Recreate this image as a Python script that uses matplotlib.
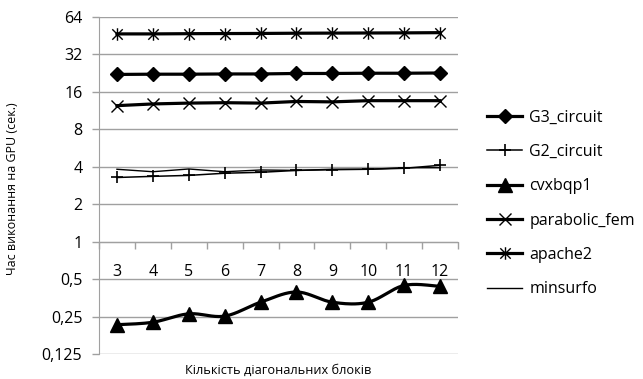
import numpy as np
import matplotlib
matplotlib.use('Agg')
import matplotlib.pyplot as plt
from matplotlib.path import Path

plt.rcParams['font.family'] = ['Open Sans', 'DejaVu Sans']

blocks = [3, 4, 5, 6, 7, 8, 9, 10, 11, 12]
g3_circuit = [22.1, 22.2, 22.2, 22.3, 22.3, 22.5, 22.5, 22.6, 22.6, 22.7]
g2_circuit = [3.28, 3.35, 3.41, 3.55, 3.61, 3.74, 3.79, 3.82, 3.89, 4.11]
cvxbqp1 = [0.215, 0.225, 0.263, 0.252, 0.326, 0.394, 0.326, 0.326, 0.445, 0.437]
parabolic_fem = [12.4, 12.8, 13.0, 13.1, 13.0, 13.4, 13.3, 13.6, 13.6, 13.6]
apache2 = [46.8, 46.8, 47.0, 47.1, 47.2, 47.4, 47.5, 47.6, 47.7, 47.9]
minsurfo = [3.82, 3.65, 3.84, 3.65, 3.77, 3.74, 3.82, 3.82, 3.93, 3.93]

yticks = [0.125, 0.25, 0.5, 1, 2, 4, 8, 16, 32, 64]
ytick_labels = ['0,125', '0,25', '0,5', '1', '2', '4', '8', '16', '32', '64']

# asterisk like excel: X plus vertical bar
star = Path([(-1, -1), (1, 1), (-1, 1), (1, -1), (0, -1.2), (0, 1.2)],
            [Path.MOVETO, Path.LINETO, Path.MOVETO, Path.LINETO, Path.MOVETO, Path.LINETO])


def smooth(xs, ys, n=20):
    # catmull-rom style smoothing in log space (like excel smoothed line)
    x = np.arange(len(xs), dtype=float)
    y = np.log2(ys)
    px, py = [], []
    for i in range(len(x) - 1):
        x0, y0 = x[max(i - 1, 0)], y[max(i - 1, 0)]
        x3, y3 = x[min(i + 2, len(x) - 1)], y[min(i + 2, len(x) - 1)]
        c1 = (x[i] + (x[i + 1] - x0) / 6, y[i] + (y[i + 1] - y0) / 6)
        c2 = (x[i + 1] - (x3 - x[i]) / 6, y[i + 1] - (y3 - y[i]) / 6)
        t = np.linspace(0, 1, n)
        px.extend((1 - t) ** 3 * x[i] + 3 * (1 - t) ** 2 * t * c1[0] + 3 * (1 - t) * t ** 2 * c2[0] + t ** 3 * x[i + 1])
        py.extend((1 - t) ** 3 * y[i] + 3 * (1 - t) ** 2 * t * c1[1] + 3 * (1 - t) * t ** 2 * c2[1] + t ** 3 * y[i + 1])
    return np.array(px), 2 ** np.array(py)


fig = plt.figure(figsize=(6.43, 3.79), dpi=100)
ax = fig.add_axes([99 / 643, 1 - 354 / 379, 359 / 643, 337 / 379])

x = np.arange(len(blocks))
lw = 2.3
l1, = ax.plot(x, g3_circuit, color='black', lw=lw, marker='D', ms=7, label='G3_circuit')
l2, = ax.plot(x, g2_circuit, color='black', lw=1.1, marker='+', ms=9, mew=1.2, label='G2_circuit')
sx, sy = smooth(blocks, cvxbqp1)
ax.plot(sx, sy, color='black', lw=lw)
ax.plot(x, cvxbqp1, ls='none', color='black', marker='^', ms=9.5)
l3, = ax.plot([], [], color='black', lw=lw, marker='^', ms=9.5, label='cvxbqp1')
l4, = ax.plot(x, parabolic_fem, color='black', lw=lw, marker='x', ms=9, mew=1, label='parabolic_fem')
l5, = ax.plot(x, apache2, color='black', lw=lw, marker=star, ms=9, mew=1, label='apache2')
l6, = ax.plot(x, minsurfo, color='black', lw=1, label='minsurfo')

ax.set_yscale('log', base=2)
ax.set_ylim(0.125, 64)
ax.set_yticks(yticks)
ax.set_yticklabels(ytick_labels)
ax.yaxis.set_minor_locator(plt.NullLocator())
ax.set_xlim(-0.5, len(blocks) - 0.5)
ax.set_xticks(x)
ax.set_xticklabels([str(b) for b in blocks])
ax.set_xticks(np.arange(len(blocks) + 1) - 0.5, minor=True)
ax.tick_params(axis='x', which='major', length=0, pad=16, labelsize=11.5)
ax.tick_params(axis='x', which='minor', length=5, direction='out', color='#a0a0a0', width=1)
ax.tick_params(axis='y', length=5, color='#a0a0a0', width=1, pad=7, labelsize=11.5)

ax.grid(axis='y', color='#a0a0a0', lw=1)
ax.set_axisbelow(True)
for s in ['top', 'right']:
    ax.spines[s].set_visible(False)
ax.spines['left'].set_color('#a0a0a0')
ax.spines['bottom'].set_position(('data', 1))
ax.spines['bottom'].set_color('#a0a0a0')

ax.set_ylabel('Час виконання на GPU (сек.)', fontsize=9)
ax.yaxis.set_label_coords(-0.222, 0.49)
fig.text(278.5 / 643, 1 - 370 / 379, 'Кількість діагональних блоків', ha='center', va='center', fontsize=9.2)

fig.legend(handles=[l1, l2, l3, l4, l5, l6], loc='center left', bbox_to_anchor=(487 / 643, 1 - 203.5 / 379),
           frameon=False, fontsize=11.5, handlelength=2.2, handletextpad=0.45, labelspacing=1.15, borderpad=0,
           borderaxespad=0)

fig.savefig('out.png', dpi=100)
